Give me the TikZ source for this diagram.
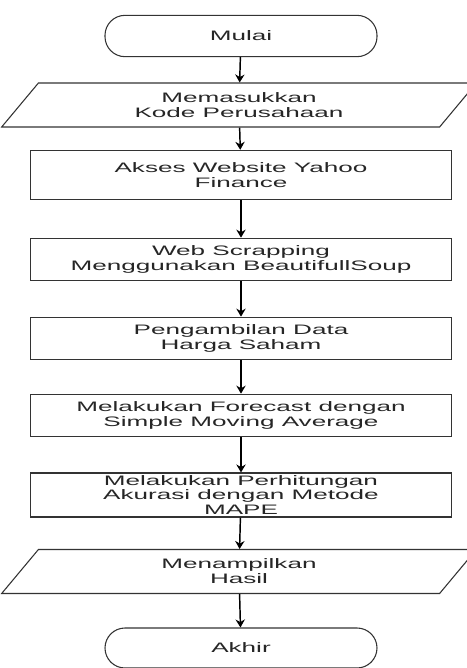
\documentclass[tikz,border=0pt]{standalone}
\usepackage{fontspec}
\setmainfont{Liberation Sans}[FakeStretch=1.9]
\usetikzlibrary{arrows.meta,shapes.geometric}

\begin{document}
\begin{tikzpicture}[x=0.75pt, y=-0.75pt, >={Stealth[length=6pt,width=7pt]},
  font=\fontsize{10.3}{11.2}\selectfont,
  terminal/.style={draw=black!80, line width=0.8pt, rectangle, rounded corners=15pt, minimum width=204pt, minimum height=31pt, align=center, text=black!85},
  inout/.style={draw=black!80, line width=0.8pt, trapezium, trapezium left angle=37, trapezium right angle=143, trapezium stretches body, minimum width=356pt, minimum height=33pt, inner sep=1pt, align=center, text=black!85},
  process/.style={draw=black!80, line width=0.8pt, rectangle, minimum width=316pt, minimum height=32pt, inner sep=1pt, align=center, text=black!85},
  flow/.style={->, line width=1.1pt}]

\useasboundingbox (0,0) rectangle (467,668);

% Define the nodes with coordinates
\node[terminal] (start) at (241,36) {Mulai};
\node[inout] (kode) at (239,105) {Memasukkan\\Kode Perusahaan};
\node[process, minimum height=37pt] (akses) at (241,175) {Akses Website Yahoo\\Finance};
\node[process] (scrap) at (241,259.5) {Web Scrapping\\Menggunakan BeautifullSoup};
\node[process] (data) at (241,338.5) {Pengambilan Data\\Harga Saham};
\node[process] (sma) at (241,415.5) {Melakukan Forecast dengan\\Simple Moving Average};
\node[process, minimum height=33pt] (mape) at (241,495) {Melakukan Perhitungan\\Akurasi dengan Metode\\MAPE};
\node[inout] (hasil) at (239,571.5) {Menampilkan\\Hasil};
\node[terminal, minimum height=30pt] (stop) at (241,648) {Akhir};

% Draw the arrows
\draw[flow] (start) -- (kode);
\draw[flow] (kode) -- (akses);
\draw[flow] (akses) -- (scrap);
\draw[flow] (scrap) -- (data);
\draw[flow] (data) -- (sma);
\draw[flow] (sma) -- (mape);
\draw[flow] (mape) -- (hasil);
\draw[flow] (hasil) -- (stop);

\end{tikzpicture}
\end{document}
